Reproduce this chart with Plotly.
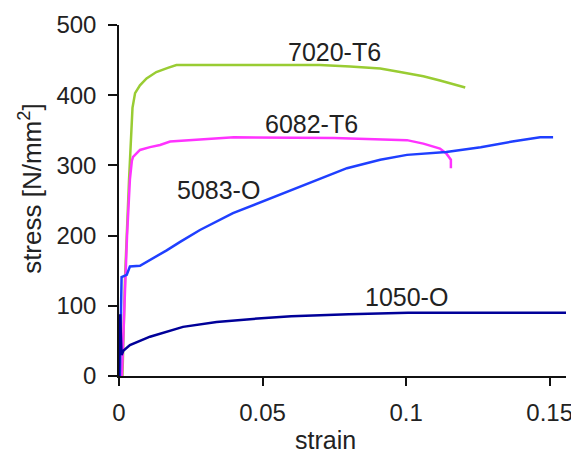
import plotly.graph_objects as go

# 7020-T6
strain_7020 = [0.0012, 0.0021, 0.0035, 0.0047, 0.0056, 0.0073, 0.0096, 0.013, 0.017, 0.020,
               0.040, 0.060, 0.070, 0.0805, 0.091, 0.0979, 0.106, 0.1118, 0.1206]
stress_7020 = [0, 140, 280, 382, 403, 414, 424, 433, 439, 443,
               443, 443, 443, 441, 438, 433, 427, 421, 411]

# 6082-T6
strain_6082 = [0.001, 0.0021, 0.0028, 0.0038, 0.0045, 0.0049, 0.0073, 0.0108, 0.0143, 0.0178,
               0.0247, 0.040, 0.075, 0.1003, 0.106, 0.1118, 0.114, 0.1156, 0.1156]
stress_6082 = [0, 120, 200, 280, 307, 312, 322, 326, 329, 334,
               336, 340, 339, 336, 331, 324, 317, 308, 296]

# 5083-O
strain_5083 = [0.0003, 0.0009, 0.0027, 0.0038, 0.0073, 0.0108, 0.0166, 0.0213, 0.0282, 0.0397,
               0.0515, 0.063, 0.0676, 0.0794, 0.091, 0.1003, 0.114, 0.126, 0.137, 0.1467, 0.1512]
stress_5083 = [0, 141, 144, 156, 157, 165, 179, 191, 208, 232,
               251, 269, 277, 296, 308, 315, 319, 326, 334, 340, 340]

# 1050-O
strain_1050 = [0, 0.0004, 0.0009, 0.0015, 0.0038, 0.0108, 0.0223, 0.034, 0.0456, 0.060,
               0.080, 0.1007, 0.156]
stress_1050 = [0, 88, 30, 36, 44, 56, 70, 77, 81, 85, 88, 90, 90]

x_ticks = [0, 0.05, 0.1, 0.15]
x_tick_labels = ["0", "0.05", "0.1", "0.15"]
y_ticks = [0, 100, 200, 300, 400, 500]

labels = ["7020-T6", "6082-T6", "5083-O", "1050-O"]
label_x = [0.0749, 0.0669, 0.0345, 0.1003]
label_y = [461, 359, 265, 112]

FONT = "Liberation Sans, Arial, sans-serif"
TXT = "#222222"

fig = go.Figure()
series = [
    (strain_7020, stress_7020, "#99cc33"),
    (strain_6082, stress_6082, "#ff33ff"),
    (strain_5083, stress_5083, "#1f3fff"),
    (strain_1050, stress_1050, "#000099"),
]
for (xs, ys, col), name in zip(series, labels):
    fig.add_trace(go.Scatter(x=xs, y=ys, mode="lines", name=name,
                             line=dict(color=col, width=2.5)))

for t, lx, ly in zip(labels, label_x, label_y):
    fig.add_annotation(x=lx, y=ly, text=t, showarrow=False,
                       font=dict(family=FONT, size=25, color=TXT))

fig.add_annotation(xref="paper", yref="paper", x=-0.197, y=0.533,
                   xanchor="center", yanchor="middle",
                   text="stress [N/mm<sup>2</sup>]", textangle=-90, showarrow=False,
                   font=dict(family=FONT, size=26, color=TXT))
fig.add_annotation(xref="paper", yref="paper", x=0.461, y=-0.182,
                   xanchor="center", yanchor="middle",
                   text="strain", showarrow=False,
                   font=dict(family=FONT, size=25, color=TXT))

# page body adds an 8px offset; compensate so the plot area sits at x 119-566, y 25-376
fig.update_layout(
    width=571, height=449,
    margin=dict(l=111, r=13, t=17, b=81),
    paper_bgcolor="white", plot_bgcolor="white",
    showlegend=False,
    font=dict(family=FONT, size=25, color=TXT),
)
fig.update_xaxes(range=[0, 0.1557], tickvals=x_ticks, ticktext=x_tick_labels,
                 automargin=False, ticklabelstandoff=6,
                 showgrid=False, zeroline=False, showline=True, linecolor="#111",
                 linewidth=1.5, ticks="outside", ticklen=8, tickwidth=1.5, tickcolor="#111",
                 tickfont=dict(family=FONT, size=24, color=TXT))
fig.update_yaxes(range=[0, 500], tickvals=y_ticks, automargin=False, ticklabelstandoff=7,
                 showgrid=False, zeroline=False, showline=True, linecolor="#111",
                 linewidth=1.5, ticks="outside", ticklen=9, tickwidth=1.5, tickcolor="#111",
                 tickfont=dict(family=FONT, size=24, color=TXT))

fig.write_html("out.html")
